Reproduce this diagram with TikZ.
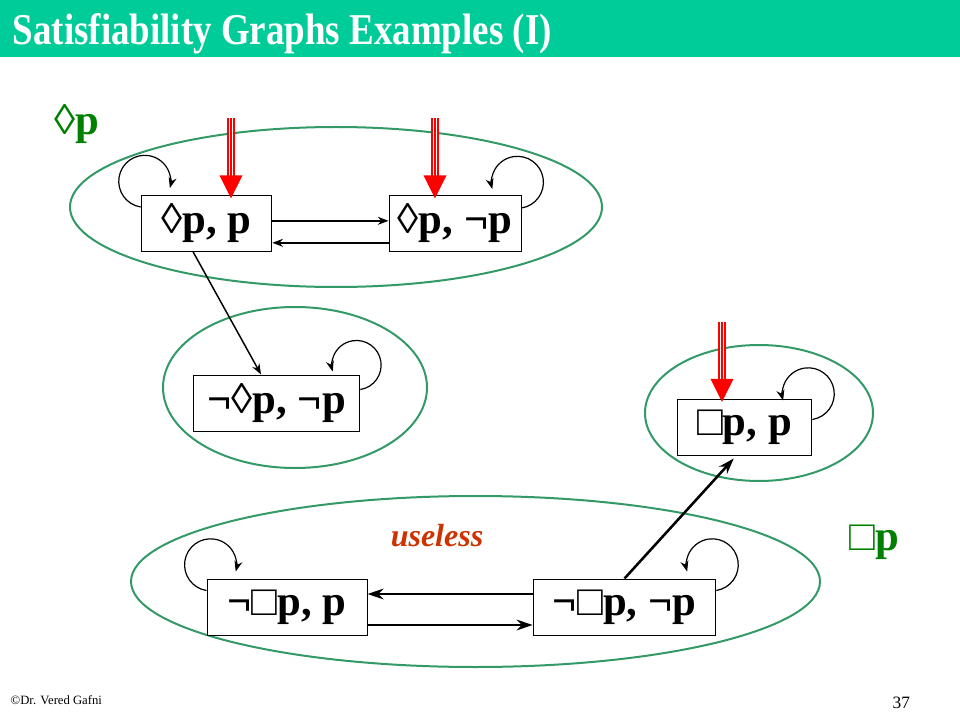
\documentclass[tikz,border=0pt]{standalone}
\usepackage{fontspec}
\setmainfont{Liberation Serif}
\newfontfamily\titlefont[FakeStretch=0.84]{Liberation Serif}
\usetikzlibrary{arrows.meta,positioning}
\definecolor{slidebar}{RGB}{0,204,153}
\definecolor{setgreen}{RGB}{51,153,102}
\definecolor{labgreen}{RGB}{0,128,0}
\definecolor{uselessred}{RGB}{204,51,0}
\tikzset{
  state/.style={draw, line width=0.75pt, fill=white, inner sep=0pt, minimum height=42pt,
    font=\bfseries\fontsize{32}{32}\selectfont},
  setring/.style={draw=setgreen, line width=1.5pt},
  loopy/.style={->, line width=0.9pt},
  thinarr/.style={->, line width=1.1pt},
  fatarr/.style={-{Stealth[length=12pt,width=8pt]}, line width=1.9pt},
  initshaft/.style={draw=red, line width=1.4pt, double=white, double distance=3pt},
  setlabel/.style={anchor=base west, text=labgreen, font=\bfseries\fontsize{32}{32}\selectfont}
}
\begin{document}
\begin{tikzpicture}[x=0.75pt, y=-0.75pt, >={Stealth[length=8pt,width=6pt]}]
      \useasboundingbox (0,0) rectangle (960,720);
      \fill[slidebar] (0,0) rectangle (960,57);
      \node[anchor=base west, text=white, font=\titlefont\bfseries\fontsize{33}{33}\selectfont] (title) at (8,45) {Satisfiability Graphs Examples (I)};
      \draw[setring] (336,207) ellipse [x radius=266, y radius=80];
      \draw[setring] (295,387.5) ellipse [x radius=132, y radius=80.5];
      \draw[setring] (759,413) ellipse [x radius=114, y radius=68];
      \draw[setring] (475.5,581.5) ellipse [x radius=344.5, y radius=85.5];
      \node[state, minimum width=98pt] (dp) at (206.5,223.5) {◊p, p};
      \node[state, minimum width=99pt] (dnp) at (455,223.5) {◊p, ¬p};
      \node[state, minimum width=125pt] (ndnp) at (276.5,403) {¬◊p, ¬p};
      \node[state, minimum width=101pt] (bp) at (744.5,427) {□p, p};
      \node[state, minimum width=120pt] (nbp) at (287,607) {¬□p, p};
      \node[state, minimum width=137pt] (nbnp) at (624.5,607) {¬□p, ¬p};
      \node[setlabel] (diaset) at (50,135) {◊p};
      \node[setlabel] (boxset) at (845,550) {□p};
      \node[anchor=base, text=uselessred, font=\bfseries\itshape\fontsize{24}{24}\selectfont] (useless) at (437,546) {useless};
      \node[anchor=base west, font=\fontsize{9.5}{10}\selectfont] (credit) at (6,704) {©Dr. Vered Gafni};
      \node[anchor=base west, font=\fontsize{13}{13}\selectfont] (pageno) at (888,708) {37};
      \draw[thinarr] ([yshift=2pt]dp.east) -- ([yshift=2pt]dnp.west);
      \draw[thinarr] ([yshift=-14.5pt]dnp.west) -- ([yshift=-14.5pt]dp.east);
      \draw[thinarr] ([xshift=-10pt]dp.south) -- ([xshift=-11.6pt]ndnp.north);
      \draw[fatarr, shorten >=3pt] (nbnp.north) -- ([xshift=-6pt]bp.south);
      \draw[fatarr] ([yshift=9.75pt]nbnp.west) -- ([yshift=9.75pt]nbp.east);
      \draw[fatarr] ([yshift=-13.5pt]nbp.east) -- ([yshift=-13.5pt]nbnp.west);
      \draw[loopy] ([yshift=-9pt]dp.north west) arc[start angle=261, end angle=-15, radius=19.5pt];
      \draw[loopy] ([yshift=-9.75pt]dnp.north east) arc[start angle=-81, end angle=195, radius=19.5pt];
      \draw[loopy] ([yshift=-11.25pt]ndnp.north east) arc[start angle=-81, end angle=195, radius=18.5pt];
      \draw[loopy] ([yshift=-15.75pt]bp.north east) arc[start angle=-81, end angle=195, radius=19.5pt];
      \draw[loopy] ([yshift=-9pt]nbp.north west) arc[start angle=261, end angle=-15, radius=19.5pt];
      \draw[loopy] ([yshift=-9pt]nbnp.north east) arc[start angle=-81, end angle=195, radius=19.5pt];
      \foreach \s/\dx in {dp/18.4pt, dnp/-15pt, bp/-16.9pt} {
        \coordinate (tip) at ([xshift=\dx, yshift=-2.5pt]\s.north);
        \draw[initshaft] (tip) ++(0,-80) -- ++(0,58);
        \draw[red, line width=1.4pt] (tip) ++(0,-80) -- ++(0,58);
        \fill[red] (tip) -- ++(-11.5,-23) -- ++(23,0) -- cycle;
      }
    \end{tikzpicture}
\end{document}
